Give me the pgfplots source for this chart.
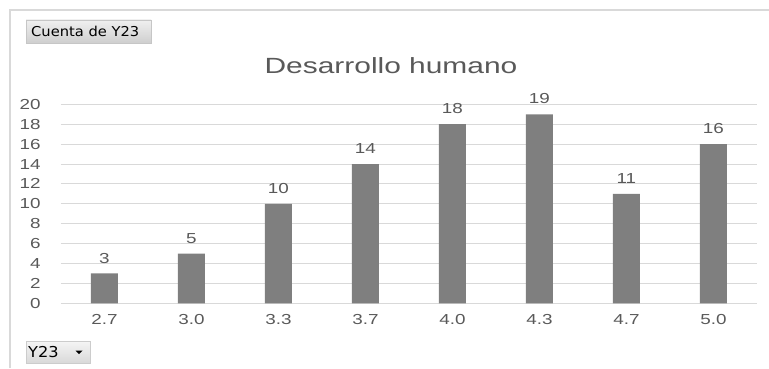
\documentclass[border=0pt]{standalone}
\usepackage{pgfplots}
\pgfplotsset{compat=1.18}
\usepackage{fontspec}
\setmainfont{Liberation Sans}[FakeStretch=1.3]
\newfontfamily\titlefont{Liberation Sans}[FakeStretch=1.36]
\newfontfamily\uifont{DejaVu Sans}[FakeStretch=1.08]
\definecolor{txt}{HTML}{595959}
\definecolor{gridc}{HTML}{D9D9D9}
\definecolor{barc}{HTML}{7F7F7F}
\definecolor{framec}{HTML}{D9D9D9}

\begin{document}
\begin{tikzpicture}[x=1bp,y=1bp]
\useasboundingbox (0,0) rectangle (769,368);
% chart frame
\draw[framec, line width=1.5bp] (10,0) -- (10,358) -- (769,358);

% field buttons
\shade[top color=gray!12, bottom color=gray!38, draw=gray!45, line width=0.4bp]
  (26,325) rectangle (151,348);
\node[font=\uifont\fontsize{13.6bp}{15bp}\selectfont, text=black, anchor=west, inner sep=0pt]
  at (31,336.5) {Cuenta de Y23};
\shade[top color=gray!8, bottom color=gray!30, draw=gray!40, line width=0.4bp]
  (26,5) rectangle (90,27);
\node[font=\uifont\fontsize{15bp}{16bp}\selectfont, text=black, anchor=west, inner sep=0pt]
  at (28,16) {Y23};
\fill[black] (75.5,17.5) -- (82.5,17.5) -- (79,14) -- cycle;

% title
\node[font=\titlefont\fontsize{22bp}{25bp}\selectfont, text=txt, anchor=base] at (391,295) {Desarrollo humano};

\begin{axis}[
  at={(70,65)}, anchor=south west,
  scale only axis, width=696bp, height=199bp,
  xmin=-0.5, xmax=7.5, ymin=0, ymax=20,
  ytick={0,2,...,20},
  xtick=data,
  xticklabels={2.7,3.0,3.3,3.7,4.0,4.3,4.7,5.0},
  axis line style={draw=none},
  ymajorgrids, xmajorgrids=false,
  grid style={draw=gridc, line width=1bp},
  major tick length=0pt,
  tick style={draw=none},
  /pgf/number format/assume math mode=true,
  ticklabel style={font=\fontsize{14.5bp}{16bp}\selectfont, text=txt, inner sep=0pt},
  yticklabel style={anchor=east, xshift=-20bp},
  xticklabel style={anchor=north, yshift=-11bp},
  clip=false,
  nodes near coords,
  every node near coord/.append style={font=\fontsize{14.5bp}{16bp}\selectfont, text=txt,
    anchor=south, inner sep=0pt, yshift=10bp, /pgf/number format/assume math mode=true},
]
\addplot[ybar, bar width=27bp, fill=barc, draw=none] coordinates {
  (0,3) (1,5) (2,10) (3,14) (4,18) (5,19) (6,11) (7,16)
};
\end{axis}
\end{tikzpicture}
\end{document}
